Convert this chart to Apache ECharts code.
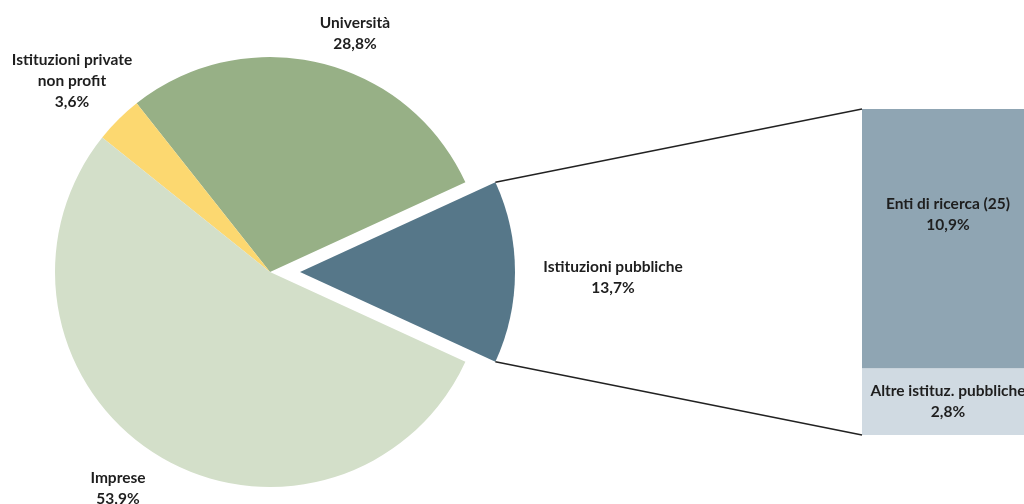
<!DOCTYPE html>
<html>
<head>
<meta charset="utf-8">
<script src="https://cdn.jsdelivr.net/npm/echarts@6/dist/echarts.min.js"></script>
<style>
  html, body { margin: 0; padding: 0; background: #fff; }
  #chart { width: 1024px; height: 504px; }
</style>
</head>
<body>
<div id="chart"></div>
<script>
// Spesa per R&S per settore esecutore (quote %)
const sectors = ['Istituzioni pubbliche', 'Università', 'Istituzioni private\nnon profit', 'Imprese'];
const sectorShares = [13.7, 28.8, 3.6, 53.9];
const sectorColors = ['#567789', '#97b086', '#fcd870', '#d3dfc9'];

// Dettaglio delle istituzioni pubbliche (dall'alto verso il basso)
const publicParts = ['Enti di ricerca (25)', 'Altre istituz. pubbliche'];
const publicShares = [10.9, 2.8];
const publicColors = ['#8fa5b3', '#d0dae2'];

const FONT = 'Lato, "Open Sans", sans-serif';
const FONT_SIZE = 15.5;
const pct = v => v.toFixed(1).replace('.', ',') + '%';

// pie geometry; the first sector is pulled out to the right
const PIE_CX = 270, PIE_CY = 272, PIE_R = 215, EXPLODE = 30;
const EXPLODED = 0;
// bar geometry
const BAR_LEFT = 862, BAR_TOP = 109, BAR_BOTTOM = 69, BAR_WIDTH = 172;

// label anchor points for the pie slices (text block centres)
const pieLabelPos = {
  'Istituzioni pubbliche': [613, 277],
  'Università': [355, 33],
  'Istituzioni private\nnon profit': [72, 81],
  'Imprese': [118, 488]
};

const total = sectorShares.reduce((a, b) => a + b, 0);
const halfAngle = sectorShares[EXPLODED] / total * Math.PI; // half the sweep of the exploded slice
const startDeg = -halfAngle * 180 / Math.PI;

const labelText = {
  fontFamily: FONT,
  fontWeight: 'bold',
  fontSize: FONT_SIZE,
  lineHeight: 21,
  color: '#1e1e1e'
};

const chart = echarts.init(document.getElementById('chart'), null, { renderer: 'canvas' });

// one pie layer per centre: the main body, and the pulled-out sector
function pieLayer(centerX, showIdx) {
  return {
    type: 'pie',
    center: [centerX, PIE_CY],
    radius: PIE_R,
    startAngle: startDeg,
    clockwise: false,
    emphasis: { disabled: true },
    labelLine: { show: false },
    label: Object.assign({
      show: true,
      position: 'outside',
      overflow: 'none',
      align: 'center',
      formatter: p => p.name + '\n' + pct(p.value)
    }, labelText),
    labelLayout: p => {
      const pos = pieLabelPos[sectors[p.dataIndex]];
      return { x: pos[0], y: pos[1], align: 'center', verticalAlign: 'middle', width: 300 };
    },
    data: sectors.map((n, i) => {
      const on = showIdx(i);
      return {
        name: n,
        value: sectorShares[i],
        itemStyle: { color: sectorColors[i], opacity: on ? 1 : 0 },
        label: { show: on },
        silent: !on
      };
    })
  };
}

// bar series: the stack is built bottom-up, so the last part goes first
const barSeries = publicParts.map((n, i) => ({
  type: 'bar',
  stack: 'pub',
  barWidth: '100%',
  name: n,
  data: [publicShares[i]],
  itemStyle: { color: publicColors[i] },
  label: Object.assign({
    show: true,
    position: i === 0 ? 'insideTop' : 'inside',
    distance: 84,
    offset: [5, 0],
    formatter: p => n + '\n' + pct(p.value)
  }, labelText),
  emphasis: { disabled: true }
})).reverse();

const option = {
  animation: false,
  backgroundColor: '#ffffff',
  textStyle: { fontFamily: FONT },
  grid: { left: BAR_LEFT, width: BAR_WIDTH, top: BAR_TOP, bottom: BAR_BOTTOM },
  xAxis: { type: 'category', data: ['Istituzioni pubbliche'], show: false },
  yAxis: { type: 'value', min: 0, max: publicShares.reduce((a, b) => a + b, 0), show: false },
  series: [
    pieLayer(PIE_CX, i => i !== EXPLODED),
    pieLayer(PIE_CX + EXPLODE, i => i === EXPLODED)
  ].concat(barSeries)
};

chart.setOption(option);

// connector lines from the exploded slice to the stacked bar
const cx = PIE_CX + EXPLODE, cy = PIE_CY;
const sliceTop = [cx + PIE_R * Math.cos(halfAngle), cy - PIE_R * Math.sin(halfAngle)];
const sliceBottom = [cx + PIE_R * Math.cos(halfAngle), cy + PIE_R * Math.sin(halfAngle)];
const barTopY = chart.convertToPixel({ yAxisIndex: 0 }, publicShares[0] + publicShares[1]);
const barBottomY = chart.convertToPixel({ yAxisIndex: 0 }, 0);

chart.setOption({
  graphic: [
    { type: 'line', shape: { x1: sliceTop[0], y1: sliceTop[1], x2: BAR_LEFT, y2: barTopY },
      style: { stroke: '#222', lineWidth: 1.4 }, z: 10 },
    { type: 'line', shape: { x1: sliceBottom[0], y1: sliceBottom[1], x2: BAR_LEFT, y2: barBottomY },
      style: { stroke: '#222', lineWidth: 1.4 }, z: 10 }
  ]
});
</script>
</body>
</html>
